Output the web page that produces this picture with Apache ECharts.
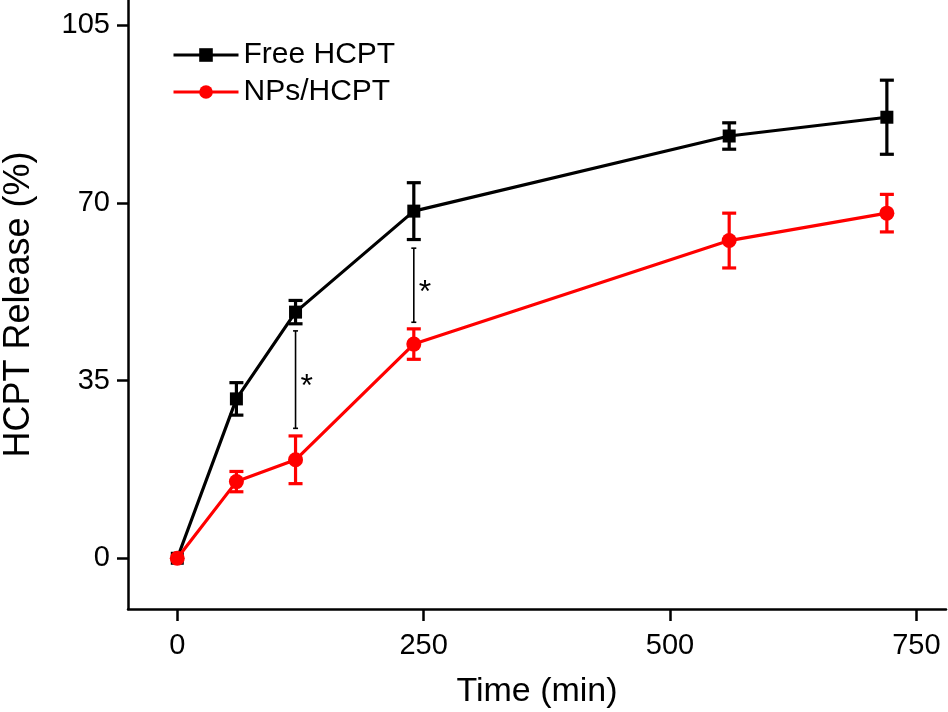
<!DOCTYPE html>
<html>
<head>
<meta charset="utf-8">
<script src="https://cdn.jsdelivr.net/npm/echarts@6/dist/echarts.min.js"></script>
<style>
  html, body { margin: 0; padding: 0; background: #fff; }
  #main { width: 948px; height: 712px; }
</style>
</head>
<body>
<div id="main"></div>
<script>
// release time points (min)
const times = [0, 60, 120, 240, 560, 720];
// Free HCPT mean and error
const freeMean = [0, 31.4, 48.5, 68.4, 83.2, 86.9];
const freeErr = [0, 3.2, 2.3, 5.6, 2.6, 7.3];
// NPs/HCPT mean and error
const npMean = [0, 15.1, 19.4, 42.2, 62.6, 68.0];
const npErr = [0, 2.0, 4.7, 3.0, 5.4, 3.7];
// significance brackets: [time, upper, lower]
const sigLines = [
  [120, 44.8, 25.6],
  [240, 61.1, 46.5]
];
const xTicks = [0, 250, 500, 750];
const yTicks = [0, 35, 70, 105];

const FONT = "'Liberation Sans', Arial, sans-serif";

function pairs(means) {
  return times.map(function (t, i) { return [t, means[i]]; });
}
function triples(means, errs) {
  return times.map(function (t, i) { return [t, means[i], errs[i]]; });
}

function errorBar(color) {
  return function (params, api) {
    const x = api.value(0), y = api.value(1), e = api.value(2);
    if (!e) return null;
    const top = api.coord([x, y + e]);
    const bot = api.coord([x, y - e]);
    const w = 7;
    const st = { stroke: color, lineWidth: 3.2 };
    return {
      type: "group",
      children: [
        { type: "line", shape: { x1: top[0], y1: top[1], x2: bot[0], y2: bot[1] }, style: st },
        { type: "line", shape: { x1: top[0] - w, y1: top[1], x2: top[0] + w, y2: top[1] }, style: st },
        { type: "line", shape: { x1: bot[0] - w, y1: bot[1], x2: bot[0] + w, y2: bot[1] }, style: st }
      ]
    };
  };
}

function sigBracket(params, api) {
  const x = api.value(0);
  const a = api.coord([x, api.value(1)]);
  const b = api.coord([x, api.value(2)]);
  const st = { stroke: "#000", lineWidth: 1.6 };
  const w = 2.5;
  return {
    type: "group",
    children: [
      { type: "line", shape: { x1: a[0], y1: a[1], x2: b[0], y2: b[1] }, style: st },
      { type: "line", shape: { x1: a[0] - w, y1: a[1], x2: a[0] + w, y2: a[1] }, style: st },
      { type: "line", shape: { x1: b[0] - w, y1: b[1], x2: b[0] + w, y2: b[1] }, style: st },
      {
        type: "text",
        style: {
          text: "*", x: a[0] + 5, y: (a[1] + b[1]) / 2 + 8,
          font: "32px " + FONT, fill: "#000",
          textAlign: "left", textVerticalAlign: "middle"
        }
      }
    ]
  };
}

const chart = echarts.init(document.getElementById("main"));
const option = {
  animation: false,
  backgroundColor: "#fff",
  grid: { left: 128, right: 2, top: 0, bottom: 103, containLabel: false, outerBoundsMode: "none" },
  legend: {
    data: ["Free HCPT", "NPs/HCPT"],
    orient: "vertical",
    left: 172,
    top: 40,
    padding: 0,
    itemWidth: 65,
    itemHeight: 17,
    itemGap: 7,
    lineStyle: { width: 3 },
    textStyle: { fontFamily: FONT, fontSize: 30, color: "#000", lineHeight: 30 }
  },
  xAxis: {
    type: "value",
    min: -50,
    max: 780,
    name: "Time (min)",
    nameLocation: "middle",
    nameGap: 66,
    nameTextStyle: { fontFamily: FONT, fontSize: 34, color: "#000" },
    splitLine: { show: false },
    axisLine: { onZero: false, lineStyle: { color: "#000", width: 2.5 } },
    axisTick: { show: true, inside: false, length: 12, customValues: xTicks, lineStyle: { color: "#000", width: 2.5 } },
    axisLabel: { customValues: xTicks, margin: 22, fontFamily: FONT, fontSize: 29, color: "#000" }
  },
  yAxis: {
    type: "value",
    min: -10,
    max: 110,
    name: "HCPT Release (%)",
    nameLocation: "middle",
    nameGap: 91,
    nameTextStyle: { fontFamily: FONT, fontSize: 36, color: "#000" },
    splitLine: { show: false },
    axisLine: { show: true, onZero: false, lineStyle: { color: "#000", width: 2.5 } },
    axisTick: { show: true, inside: false, length: 11, customValues: yTicks, lineStyle: { color: "#000", width: 2.5 } },
    axisLabel: { customValues: yTicks, margin: 18, fontFamily: FONT, fontSize: 29, color: "#000" }
  },
  series: [
    {
      type: "custom",
      renderItem: errorBar("#000"),
      data: triples(freeMean, freeErr),
      z: 2
    },
    {
      type: "custom",
      renderItem: errorBar("#ff0000"),
      data: triples(npMean, npErr),
      z: 2
    },
    {
      name: "Free HCPT",
      type: "line",
      data: pairs(freeMean),
      symbol: "rect",
      symbolSize: 13,
      lineStyle: { color: "#000", width: 3.2 },
      itemStyle: { color: "#000" },
      z: 3
    },
    {
      name: "NPs/HCPT",
      type: "line",
      data: pairs(npMean),
      symbol: "circle",
      symbolSize: 15,
      lineStyle: { color: "#ff0000", width: 3.2 },
      itemStyle: { color: "#ff0000" },
      z: 4
    },
    {
      type: "custom",
      renderItem: sigBracket,
      data: sigLines,
      z: 5
    }
  ]
};
chart.setOption(option);
</script>
</body>
</html>
